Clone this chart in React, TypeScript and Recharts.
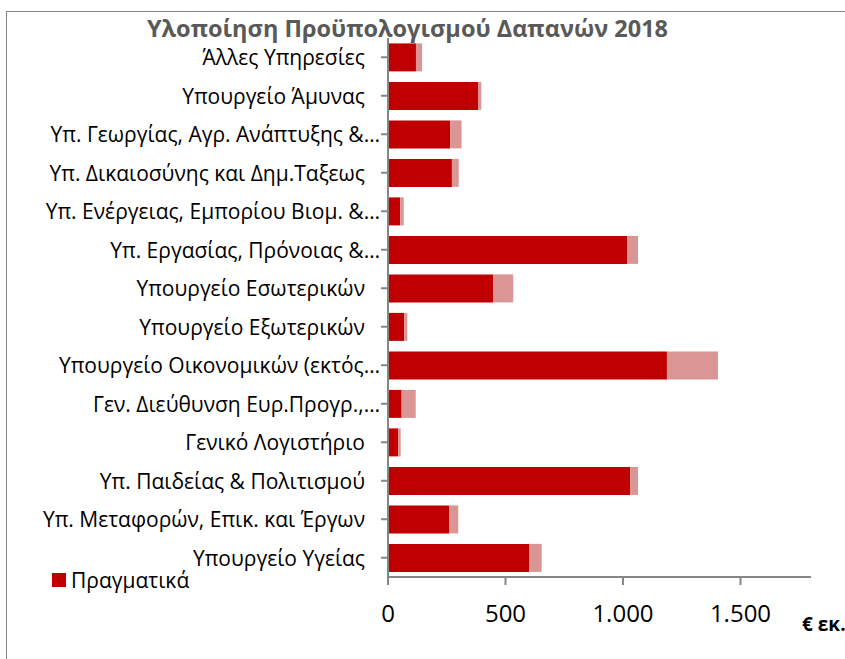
import { BarChart, Bar, XAxis, YAxis } from "recharts";

const categories = [
  "Άλλες Υπηρεσίες",
  "Υπουργείο Άμυνας",
  "Υπ. Γεωργίας, Αγρ. Ανάπτυξης &…",
  "Υπ. Δικαιοσύνης και Δημ.Ταξεως",
  "Υπ. Ενέργειας, Εμπορίου Βιομ. &…",
  "Υπ. Εργασίας, Πρόνοιας &…",
  "Υπουργείο Εσωτερικών",
  "Υπουργείο Εξωτερικών",
  "Υπουργείο Οικονομικών (εκτός…",
  "Γεν. Διεύθυνση Ευρ.Προγρ.,…",
  "Γενικό Λογιστήριο",
  "Υπ. Παιδείας & Πολιτισμού",
  "Υπ. Μεταφορών, Επικ. και Έργων",
  "Υπουργείο Υγείας",
];

// € εκ.
const actual = [119, 383, 264, 272, 52, 1017, 448, 69, 1187, 58, 43, 1030, 261, 600];
const remaining = [26, 14, 49, 29, 15, 47, 85, 13, 217, 60, 11, 34, 38, 54];

const xTicks = [0, 500, 1000, 1500];

const data = categories.map((name, i) => ({
  name,
  actual: actual[i],
  remaining: remaining[i],
}));

const font = "'Open Sans', 'Noto Sans', sans-serif";
const DARK = "#C00000";
const LIGHT = "#DA9694";

const CategoryTick = (props: any) => {
  const { x, y, payload } = props;
  const label: string = payload.value;
  const truncated = label.endsWith("…");
  return (
    <text
      x={truncated ? x + 1 : x - 14}
      y={y}
      dy="0.38em"
      textAnchor="end"
      fontSize={21}
      fontFamily={font}
      fill="#000"
    >
      {label}
    </text>
  );
};

export default function App() {
  return (
    <div
      style={{
        position: "absolute",
        left: 0,
        top: 0,
        width: 845,
        height: 659,
        overflow: "hidden",
        background: "#fff",
        fontFamily: font,
      }}
    >
      <div
        style={{
          position: "absolute",
          left: 6,
          top: 11,
          width: 900,
          height: 700,
          border: "1px solid #868686",
        }}
      />
      <div
        style={{
          position: "absolute",
          left: 0,
          width: 815,
          top: 17,
          textAlign: "center",
          fontSize: 23.5,
          lineHeight: 1,
          fontWeight: "bold",
          color: "#595959",
          whiteSpace: "nowrap",
        }}
      >
        Υλοποίηση Προϋπολογισμού Δαπανών 2018
      </div>
      <div
        style={{
          position: "absolute",
          left: 802,
          top: 611,
          fontSize: 19,
          fontWeight: "bold",
          whiteSpace: "nowrap",
        }}
      >
        € εκ.
      </div>
      <BarChart
        width={845}
        height={659}
        data={data}
        layout="vertical"
        margin={{ top: 38, right: 34, bottom: 42, left: 8 }}
        barCategoryGap="14%"
        style={{ position: "absolute", left: 0, top: 0 }}
      >
        <XAxis
          type="number"
          domain={[0, 1800]}
          ticks={xTicks}
          tickFormatter={(v: number) => v.toLocaleString("de-DE")}
          height={40}
          tickSize={8}
          tickMargin={20}
          stroke="#868686"
          strokeWidth={2}
          tick={{ fill: "#000", fontSize: 24, fontFamily: font }}
        />
        <YAxis
          type="category"
          dataKey="name"
          width={380}
          tickSize={7}
          stroke="#868686"
          strokeWidth={2}
          interval={0}
          tick={<CategoryTick />}
          tickLine={{ stroke: "#868686", strokeWidth: 2 }}
        />
        <Bar
          dataKey="actual"
          name="Πραγματικά"
          stackId="a"
          fill={DARK}
          isAnimationActive={false}
        />
        <Bar
          dataKey="remaining"
          name="Υπόλοιπο"
          stackId="a"
          fill={LIGHT}
          isAnimationActive={false}
        />
      </BarChart>
      <div
        style={{
          position: "absolute",
          left: 52,
          top: 566,
          display: "flex",
          alignItems: "center",
          fontSize: 21,
          whiteSpace: "nowrap",
        }}
      >
        <span style={{ width: 14, height: 14, background: DARK, marginRight: 5 }} />
        Πραγματικά
      </div>
    </div>
  );
}
